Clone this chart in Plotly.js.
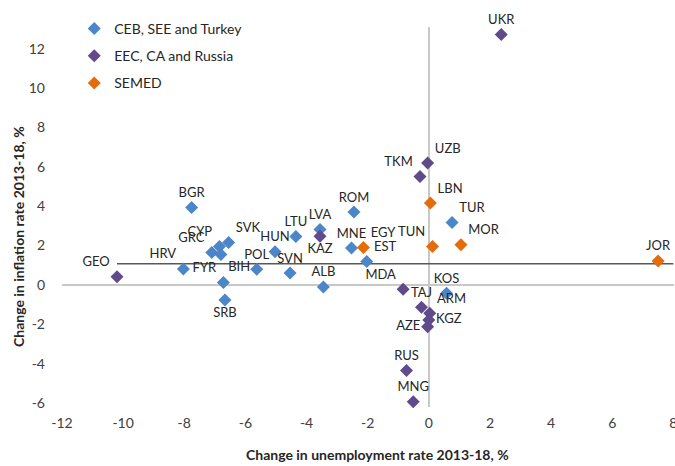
<!DOCTYPE html>
<html>
<head>
<meta charset="utf-8">
<script src="https://cdn.plot.ly/plotly-3.0.1.min.js"></script>
<style>html,body{margin:0;padding:0;background:#fff;}#chart{width:675px;height:466px;}</style>
</head>
<body>
<div id="chart"></div>
<script>
// CEB, SEE and Turkey
const cebNames = ["BGR","HRV","GRC","CYP","SVK","BIH","FYR","SRB","POL","HUN","LTU","SVN","LVA","ALB","ROM","MNE","EST","KOS","TUR"];
const cebX = [-7.76,-8.03,-7.1,-6.85,-6.55,-6.8,-6.72,-6.67,-5.63,-5.03,-4.35,-4.54,-3.56,-3.45,-2.45,-2.53,-2.03,0.58,0.76];
const cebY = [3.93,0.81,1.65,1.95,2.15,1.55,0.12,-0.76,0.80,1.69,2.46,0.60,2.82,-0.10,3.70,1.87,1.19,-0.42,3.17];
const cebPos = ["top center","top left","top left","top left","top right","bottom right","top left","bottom center","top center","top center","top center","top center","top center","top center","top center","top center","top right","top center","top right"];

// EEC, CA and Russia
const eecNames = ["GEO","KAZ","UZB","TKM","MDA","TAJ","ARM","KGZ","AZE","RUS","MNG","UKR"];
const eecX = [-10.2,-3.56,-0.04,-0.29,-0.84,-0.24,0.03,0.0,-0.04,-0.73,-0.51,2.37];
const eecY = [0.42,2.47,6.19,5.51,-0.22,-1.14,-1.44,-1.78,-2.13,-4.35,-5.93,12.72];
const eecPos = ["top left","bottom center","top right","top left","top left","top center","top right","middle right","middle left","top center","top center","top center"];

// SEMED
const semNames = ["EGY","LBN","TUN","MOR","JOR"];
const semX = [-2.14,0.05,0.12,1.05,7.5];
const semY = [1.90,4.16,1.95,2.04,1.22];
const semPos = ["top right","top right","top left","top right","top center"];

// reference line
const refX = [-10.2, 8];
const refY = [1.07, 1.07];

const xTicks = [-12,-10,-8,-6,-4,-2,0,2,4,6,8];
const yTicks = [-6,-4,-2,0,2,4,6,8,10,12];

const FONT = "Lato, 'Open Sans', sans-serif";
const lblFont = {family: FONT, size: 13, color: "#262626"};

function series(name, x, y, txt, pos, color, grp) {
  return {
    type: "scatter", mode: "markers+text", name: name,
    x: x, y: y, text: txt, textposition: pos, textfont: lblFont,
    marker: {symbol: "diamond", size: 10, color: color},
    cliponaxis: false, legendgroup: grp, hoverinfo: "text"
  };
}

const traces = [
  {type: "scatter", mode: "lines", x: refX, y: refY, line: {color: "#595959", width: 1.5},
   showlegend: false, hoverinfo: "skip", cliponaxis: false},
  series("CEB, SEE and Turkey", cebX, cebY, cebNames, cebPos, "#4A86C8", "a"),
  series("EEC, CA and Russia", eecX, eecY, eecNames, eecPos, "#5F4A8B", "b"),
  series("SEMED", semX, semY, semNames, semPos, "#E46C0A", "c")
];

const layout = {
  width: 675, height: 466,
  margin: {l: 62, r: 1, t: 27, b: 59},
  paper_bgcolor: "#fff", plot_bgcolor: "#fff",
  font: {family: FONT, size: 14, color: "#404040"},
  showlegend: true,
  legend: {x: 0.02, y: 1.037, xanchor: "left", yanchor: "top", bgcolor: "rgba(0,0,0,0)",
           font: {family: FONT, size: 14, color: "#262626"}, traceorder: "grouped", tracegroupgap: 6},
  xaxis: {range: [-12, 8.02], tickvals: xTicks, ticktext: xTicks.map(String), showgrid: false,
          zeroline: true, zerolinecolor: "#C8C8C8", zerolinewidth: 2, showline: false,
          ticks: "", ticklabelstandoff: 6, ticklabeloverflow: "allow",
          tickfont: {family: FONT, size: 14, color: "#404040"}},
  yaxis: {range: [-6.2, 13.1], tickvals: yTicks, ticktext: yTicks.map(String), showgrid: false,
          zeroline: true, zerolinecolor: "#C8C8C8", zerolinewidth: 2, showline: false,
          ticks: "", ticklabelstandoff: 16, tickfont: {family: FONT, size: 14, color: "#404040"}},
  annotations: [
    {text: "<b>Change in unemployment rate 2013-18, %</b>", xref: "paper", yref: "paper",
     x: 0.516, y: -0.126, xanchor: "center", yanchor: "middle", showarrow: false,
     font: {family: FONT, size: 14, color: "#262626"}},
    {text: "<b>Change in inflation rate 2013-18, %</b>", xref: "paper", yref: "paper",
     x: -0.072, y: 0.45, xanchor: "center", yanchor: "middle", textangle: -90, showarrow: false,
     font: {family: FONT, size: 14, color: "#262626"}}
  ]
};

Plotly.newPlot("chart", traces, layout, {displayModeBar: false, staticPlot: true});
</script>
</body>
</html>
